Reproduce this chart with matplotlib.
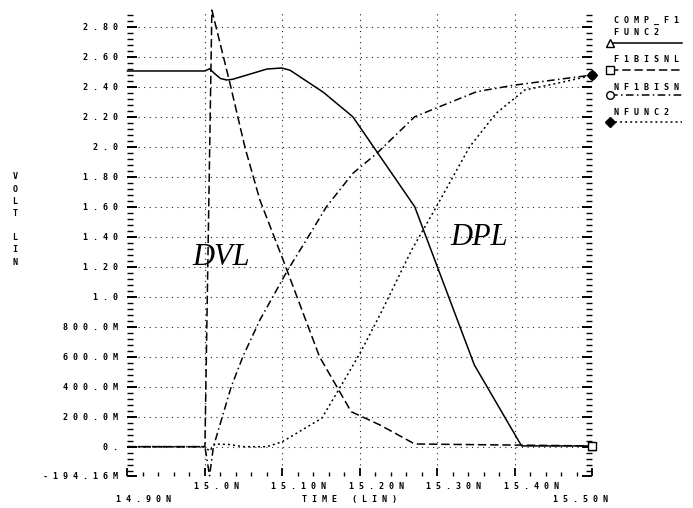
import matplotlib
matplotlib.use("Agg")
import matplotlib.pyplot as plt
from matplotlib.lines import Line2D
from matplotlib.ticker import MultipleLocator

# time in ns, voltage in V
t_func2 = [14.90, 15.000, 15.006, 15.012, 15.020, 15.028, 15.036, 15.062, 15.080,
           15.099, 15.110, 15.153, 15.191, 15.271, 15.348, 15.409, 15.500]
v_func2 = [2.505, 2.505, 2.52, 2.49, 2.455, 2.445, 2.45, 2.49, 2.518,
           2.525, 2.51, 2.363, 2.20, 1.60, 0.545, 0.005, 0.005]

t_f1bisnl = [14.90, 15.000, 15.009, 15.032, 15.052, 15.071, 15.101, 15.148,
             15.189, 15.226, 15.271, 15.500]
v_f1bisnl = [0.0, 0.0, 2.911, 2.43, 1.99, 1.645, 1.245, 0.60,
             0.233, 0.145, 0.018, 0.005]

t_nf1bisn = [14.90, 15.000, 15.006, 15.011, 15.034, 15.049, 15.071, 15.107, 15.131,
             15.157, 15.191, 15.222, 15.271, 15.351, 15.400, 15.500]
v_nf1bisn = [0.0, 0.0, -0.194, 0.0, 0.40, 0.60, 0.845, 1.178, 1.378,
             1.60, 1.822, 1.956, 2.20, 2.367, 2.411, 2.478]

t_nfunc2 = [14.90, 15.000, 15.006, 15.013, 15.030, 15.050, 15.080, 15.100, 15.151,
            15.174, 15.200, 15.226, 15.267, 15.299, 15.342, 15.376, 15.413, 15.454, 15.500]
v_nfunc2 = [0.0, 0.0, -0.03, 0.018, 0.015, 0.0, 0.0, 0.033, 0.19,
            0.39, 0.62, 0.878, 1.311, 1.60, 2.0, 2.222, 2.378, 2.422, 2.475]

x_ticks = [14.90, 15.0, 15.1, 15.2, 15.3, 15.4, 15.5]
x_labels = ["14.90N", "15.0N", "15.10N", "15.20N", "15.30N", "15.40N", "15.50N"]
y_ticks = [-0.19416, 0.0, 0.2, 0.4, 0.6, 0.8, 1.0, 1.2, 1.4, 1.6, 1.8, 2.0, 2.2, 2.4, 2.6, 2.8]
y_labels = ["-194.16M", "0.", "200.0M", "400.0M", "600.0M", "800.0M", "1.0", "1.20",
            "1.40", "1.60", "1.80", "2.0", "2.20", "2.40", "2.60", "2.80"]

legend_names = [["COMP_F1", "FUNC2"], ["F1BISNL"], ["NF1BISN"], ["NFUNC2"]]

MONO = dict(family="DejaVu Sans Mono", weight="bold", size=6)


def spaced(s):
    return " ".join(s)


fig = plt.figure(figsize=(6.93, 5.08), dpi=100)
W, H = 693, 508
ax = fig.add_axes([127.5 / W, 1 - 475.8 / H, 464.5 / W, 466.3 / H])

styles = [
    dict(ls="-", marker="^", mfc="white"),
    dict(ls=(0, (5.5, 2.5)), marker="s", mfc="white"),
    dict(ls=(0, (5.0, 2.2, 1.0, 2.2)), marker="o", mfc="white"),
    dict(ls=(0, (1.3, 2.0)), marker="D", mfc="black"),
]
series = [(t_func2, v_func2), (t_f1bisnl, v_f1bisnl),
          (t_nf1bisn, v_nf1bisn), (t_nfunc2, v_nfunc2)]
for (t, v), st in zip(series, styles):
    ax.plot(t, v, color="black", lw=1.1, ls=st["ls"], marker=st["marker"],
            markevery=[len(t) - 1], ms=5.5, mfc=st["mfc"], mec="black", mew=1.0,
            clip_on=False, zorder=3)

ax.set_xlim(14.90, 15.50)
ax.set_ylim(-0.19416, 2.915)
for s in ax.spines.values():
    s.set_visible(False)

ax.set_yticks(y_ticks, [spaced(l) for l in y_labels])
for lab in ax.get_yticklabels():
    lab.set_fontproperties(MONO)
    lab.set_fontsize(6)
ax.yaxis.set_minor_locator(MultipleLocator(0.04))
ax.tick_params(axis="y", which="major", direction="in", length=7, width=1.4,
               left=True, right=True, pad=6.8)
ax.tick_params(axis="y", which="minor", direction="in", length=4, width=1.0,
               left=True, right=True)

ax.set_xticks(x_ticks, [""] * len(x_ticks))
ax.xaxis.set_minor_locator(MultipleLocator(0.02))
ax.tick_params(axis="x", which="major", direction="in", length=6, width=1.3)
ax.tick_params(axis="x", which="minor", direction="in", length=3, width=1.0)

ax.grid(True, which="major", color="#222222", lw=0.8, ls=(0, (1, 4)))
ax.yaxis.get_major_ticks()[0].gridline.set_visible(False)
xt = ax.xaxis.get_major_ticks()
xt[0].gridline.set_visible(False)
xt[-1].gridline.set_visible(False)

# staggered time labels
for i, (x, lab) in enumerate(zip(x_ticks, x_labels)):
    if i == 0:
        dx, dy, ha = -11, -24, "left"
    elif i == len(x_ticks) - 1:
        dx, dy, ha = 16, -24, "right"
    else:
        dx, dy, ha = -11, -11, "left"
    ax.annotate(spaced(lab), xy=(x, 0), xycoords=("data", "axes fraction"),
                xytext=(dx * 0.72, dy * 0.72), textcoords="offset points",
                ha=ha, va="center", **MONO)
ax.annotate(spaced("TIME") + "   " + spaced("(LIN)"), xy=(0.479, 0), xycoords="axes fraction",
            xytext=(0, -24 * 0.72), textcoords="offset points",
            ha="center", va="center", **MONO)

fig.text(15 / W, 1 - 219.5 / H, "V\nO\nL\nT\n\nL\nI\nN", ha="center", va="center",
         linespacing=1.45, **MONO)

ax.text(15.0206, 1.211, "DVL", family="Liberation Serif", style="italic",
        size=22, ha="center", va="baseline")
ax.text(15.3548, 1.345, "DPL", family="Liberation Serif", style="italic",
        size=22, ha="center", va="baseline")

# legend on the right
text_rows = [[20.7, 32.3], [59.3], [87.3], [112.7]]
line_rows = [42.7, 70.0, 95.0, 122.3]
for names, ys, ly, st in zip(legend_names, text_rows, line_rows, styles):
    for n, y in zip(names, ys):
        fig.text(614 / W, 1 - y / H, spaced(n), ha="left", va="center", **MONO)
    fig.add_artist(Line2D([610 / W, 682 / W], [1 - ly / H] * 2, transform=fig.transFigure,
                          color="black", lw=1.1, ls=st["ls"]))
    fig.add_artist(Line2D([610 / W], [1 - ly / H], transform=fig.transFigure,
                          marker=st["marker"], ms=5.5, mfc=st["mfc"], mec="black",
                          mew=1.0, ls="none"))

fig.savefig("out.png", dpi=100)
